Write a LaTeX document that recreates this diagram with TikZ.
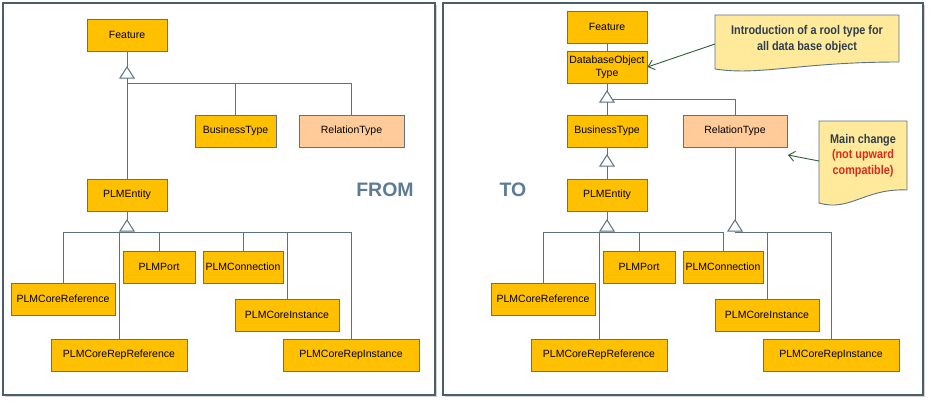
\documentclass[tikz,border=0pt]{standalone}
\usepackage{fontspec}
\setmainfont{Liberation Sans}
\newfontfamily\notefont[FakeStretch=0.86]{Liberation Sans}
\usepackage{xcolor}
\usetikzlibrary{arrows.meta,shadows}
\definecolor{gold}{HTML}{FFC000}
\definecolor{relfill}{HTML}{FFCC99}
\definecolor{clsline}{HTML}{5A7284}
\definecolor{panelline}{HTML}{4D5D69}
\definecolor{notefill}{HTML}{FFE99A}
\definecolor{notetext}{HTML}{2E3E50}
\definecolor{notered}{HTML}{DD2A1E}
\definecolor{arrowgreen}{HTML}{2F5F3A}
\definecolor{titleblue}{HTML}{5B7C94}

\begin{document}
\begin{tikzpicture}[x=1pt,y=-1pt,every node/.style={font=\fontsize{10.5}{13}\selectfont},
  cls/.style={draw=clsline,fill=gold,minimum height=32pt,inner sep=1pt,line width=0.9pt,align=center},
  rel/.style={cls,fill=relfill},
  assoc/.style={draw=clsline,line width=1pt},
  panel/.style={draw=panelline,fill=white,line width=1.2pt,drop shadow={shadow xshift=2pt,shadow yshift=-2pt,opacity=0.35}},
  note/.style={draw=clsline,fill=notefill,line width=0.9pt},
  notetxt/.style={font=\notefont\bfseries\fontsize{12.6}{15.5}\selectfont,text=notetext,align=center},
  notearrow/.style={draw=arrowgreen,line width=0.9pt,-{Straight Barb[length=6pt,width=10pt]}},
  title/.style={font=\bfseries\fontsize{19.5}{20}\selectfont,text=titleblue},
  gentri/.pic={\draw[draw=clsline,fill=white,line width=1pt] (0,0) -- (7,11) -- (-7,11) -- cycle;}]
\useasboundingbox (0,0) rectangle (933,405);

% panels
\draw[panel] (3,3) rectangle (435,395);
\draw[panel] (443,3) rectangle (923,395);

% FROM
\node[cls,minimum width=80pt] (feat) at (127,35) {Feature};
\node[cls,minimum width=81pt] (btype) at (235.5,131) {BusinessType};
\node[rel,minimum width=105pt] (rtype) at (351.5,131) {RelationType};
\node[cls,minimum width=80pt] (ent) at (127,195) {PLMEntity};
\node[cls,minimum width=104pt] (cref) at (63,299) {PLMCoreReference};
\node[cls,minimum width=136pt] (crepref) at (119,355) {PLMCoreRepReference};
\node[cls,minimum width=72pt] (port) at (159,267) {PLMPort};
\node[cls,minimum width=80pt] (conn) at (243,267) {PLMConnection};
\node[cls,minimum width=104pt] (cinst) at (287,315) {PLMCoreInstance};
\node[cls,minimum width=136pt] (crepinst) at (351,355) {PLMCoreRepInstance};
\node[title] (from) at (385,190) {FROM};

\coordinate (gfa) at (127,67);
\coordinate (gfb) at (127,83);
\coordinate (gea) at (127,220);
\coordinate (geb) at (127,232);
\draw[assoc] (feat) -- (gfa);
\draw[assoc] (gfa) -- (ent);
\draw[assoc] (gfb) -| (btype);
\draw[assoc] (gfb) -| (rtype);
\draw[assoc] (ent) -- (gea);
\foreach \c in {cref,crepref,port,conn,cinst,crepinst}
  \draw[assoc] (geb) -| (\c);
\pic at (gfa) {gentri};
\pic at (gea) {gentri};

% TO
\node[cls,minimum width=80pt] (feat2) at (607,27) {Feature};
\node[cls,minimum width=80pt] (dbo) at (607,67) {DatabaseObject\\Type};
\node[cls,minimum width=80pt] (btype2) at (607,131) {BusinessType};
\node[rel,minimum width=104pt] (rtype2) at (735,131) {RelationType};
\node[cls,minimum width=80pt] (ent2) at (607,195) {PLMEntity};
\node[cls,minimum width=104pt] (cref2) at (543,299) {PLMCoreReference};
\node[cls,minimum width=136pt] (crepref2) at (599,355) {PLMCoreRepReference};
\node[cls,minimum width=72pt] (port2) at (639,267) {PLMPort};
\node[cls,minimum width=80pt] (conn2) at (723,267) {PLMConnection};
\node[cls,minimum width=104pt] (cinst2) at (767,315) {PLMCoreInstance};
\node[cls,minimum width=136pt] (crepinst2) at (831,355) {PLMCoreRepInstance};
\node[title] (to) at (513,190) {TO};

\coordinate (gda) at (607,91);
\coordinate (gdb) at (607,99);
\coordinate (gba) at (607,155);
\coordinate (g2a) at (607,220);
\coordinate (g2b) at (607,232);
\coordinate (gra) at (735,220);
\coordinate (grb) at (735,232);
\draw[assoc] (feat2) -- (dbo);
\draw[assoc] (dbo) -- (gda);
\draw[assoc] (gda) -- (btype2);
\draw[assoc] (gdb) -| (rtype2);
\draw[assoc] (btype2) -- (gba);
\draw[assoc] (gba) -- (ent2);
\draw[assoc] (ent2) -- (g2a);
\foreach \c in {cref2,crepref2,port2,conn2}
  \draw[assoc] (g2b) -| (\c);
\draw[assoc] (rtype2) -- (gra);
\foreach \c in {cinst2,crepinst2}
  \draw[assoc] (grb) -| (\c);
\pic at (gda) {gentri};
\pic at (gba) {gentri};
\pic at (g2a) {gentri};
\pic at (gra) {gentri};

% notes
\draw[note] (715,15) -- (899,15) -- (899,62) .. controls (800,62) and (760,76) .. (715,69) -- cycle;
\node[notetxt] (note1) at (807,39) {Introduction of a rool type for\\all data base object};
\draw[note] (819,121) -- (907,121) -- (907,190) .. controls (865,188) and (850,212) .. (819,203) -- cycle;
\node[notetxt] (note2) at (863,155.5) {Main change\\\textcolor{notered}{(not upward}\\\textcolor{notered}{compatible)}};
\coordinate (n1) at (715,44);
\coordinate (n2) at (819,161);
\coordinate (r2) at (788,155);
\draw[notearrow] (n1) -- (dbo.east);
\draw[notearrow] (n2) -- (r2);
\end{tikzpicture}
\end{document}
